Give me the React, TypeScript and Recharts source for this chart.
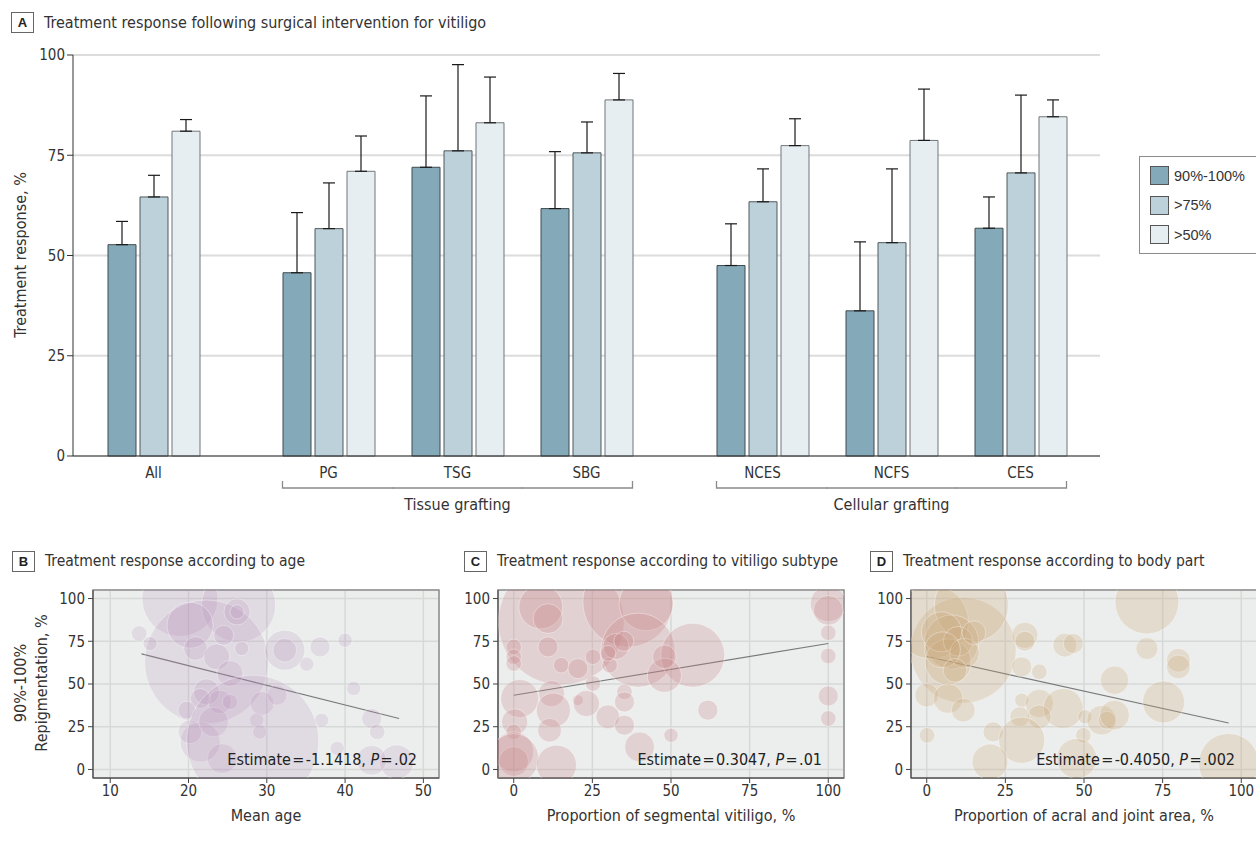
import React from "react";
import {
  BarChart,
  Bar,
  ErrorBar,
  XAxis,
  YAxis,
  CartesianGrid,
  Legend,
  ScatterChart,
  Scatter,
  ZAxis,
  ReferenceLine,
  ReferenceArea,
} from "recharts";

const FONT = "'Liberation Sans Narrow', 'DejaVu Sans Condensed', 'Liberation Sans', sans-serif";
const INK = "#333";

// ---- panel A data ----
const allGroups = ["All"];
const tissueGroups = ["PG", "TSG", "SBG"];
const cellularGroups = ["NCES", "NCFS", "CES"];
const categories = [...allGroups, ...tissueGroups, ...cellularGroups];

const resp90 = [52.7, 45.7, 72.0, 61.7, 47.5, 36.2, 56.8];
const upper90 = [58.5, 60.7, 89.8, 75.9, 57.9, 53.4, 64.6];
const resp75 = [64.6, 56.7, 76.1, 75.6, 63.4, 53.2, 70.6];
const upper75 = [70.0, 68.1, 97.6, 83.3, 71.6, 71.6, 90.0];
const resp50 = [81.0, 71.0, 83.1, 88.8, 77.4, 78.7, 84.6];
const upper50 = [83.9, 79.8, 94.5, 95.4, 84.1, 91.5, 88.8];

const seriesNames = ["90%-100%", ">75%", ">50%"];
const seriesKeys = ["r90", "r75", "r50"];
const seriesFill = ["#84a9b8", "#bdd1da", "#e6eef1"];
const seriesStroke = ["#3f4b50", "#4f585c", "#70777a"];
const yTicksA = [0, 25, 50, 75, 100];

const rows = categories.map((c, i) => ({
  group: c,
  r90: resp90[i],
  e_r90: [0, +(upper90[i] - resp90[i]).toFixed(1)],
  r75: resp75[i],
  e_r75: [0, +(upper75[i] - resp75[i]).toFixed(1)],
  r50: resp50[i],
  e_r50: [0, +(upper50[i] - resp50[i]).toFixed(1)],
}));

// ---- panels B-D data ----
const ageX = [18.9, 26.4, 22.3, 20.2, 32.3, 36.8, 40, 13.7, 15.1, 35.1, 41.1, 43.4, 44.1, 46.6, 43.4, 39, 37, 20.9, 23.6, 25.3, 22.3, 24, 21.5, 25.3, 26.8, 24.5, 29.4, 19.8, 28.7, 29.1, 21.5, 24.3, 20.2, 23.2, 31.3, 26.2, 26.2, 32.3, 28.2];
const ageY = [100, 96.1, 62.9, 84.4, 69.8, 71.7, 75.6, 79.5, 73.7, 61.6, 47.4, 29.8, 22, 4.4, 5.4, 12.3, 28.8, 70.8, 65.9, 56.1, 45.4, 39.5, 41.5, 39.5, 70.8, 78.5, 38.6, 34.7, 28.8, 22, 16.1, 6.4, 22, 27.8, 43.5, 92.2, 92.2, 69.8, 16.5];
const ageN = [144, 137, 384, 53, 40, 10, 5, 6, 5, 5, 5, 10, 6, 29, 22, 5, 5, 14, 17, 17, 17, 14, 10, 6, 5, 10, 14, 8, 5, 5, 40, 22, 14, 22, 10, 17, 5, 14, 436];
const ageFitX = [14, 46.9];
const ageFitY = [67.6, 29.8];

const segX = [15.1, 36.3, 42.1, 39.5, 56.9, 47.9, 8.6, 10.9, 10.9, 15.1, 20.4, 25.2, 30.5, 25.2, 0, 0, 0, 1.9, 12, 12.6, 20.4, 23.1, 11.4, 0.3, 0, 0, 0, 0, 13.6, 29.9, 35.2, 35.2, 35.2, 40, 50, 61.7, 100, 100, 100, 100, 100, 100, 32.5, 35, 30, 47.9];
const segY = [86.3, 98, 97, 69.8, 66.8, 55.1, 95.1, 88.3, 71.7, 61, 59, 65.9, 61, 50.3, 71.7, 65.9, 62, 41.5, 44.4, 34.7, 40.5, 38.6, 23, 27.8, 22, 10.3, 4.7, 6.4, 2.5, 30.8, 25.9, 45.4, 39.5, 13.2, 20, 34.7, 97, 93.1, 80, 66.4, 43, 29.8, 72, 75, 68, 65.9];
const segN = [397, 203, 73, 137, 102, 29, 48, 22, 10, 6, 10, 6, 6, 6, 6, 6, 6, 36, 17, 29, 3, 17, 14, 17, 6, 40, 22, 62, 40, 14, 10, 6, 10, 22, 5, 10, 32, 22, 6, 6, 10, 6, 17, 10, 6, 14];
const segFitX = [0, 100];
const segFitY = [43.4, 73.7];

const acralX = [11.6, 1.5, 14.2, 7.9, 6.8, 4.7, 0, 6.8, 11.6, 0.1, 31.2, 31.2, 30.2, 35.8, 43.9, 46.6, 70, 70, 80, 80, 59.7, 75.3, 30.2, 35.8, 43.4, 35.8, 29.6, 50.3, 55.6, 57.3, 59.7, 49.8, 21.1, 30.2, 20.1, 47.7, 96, 10, 12, 5, 9, 15];
const acralY = [69.8, 86.3, 96.1, 74.6, 62.9, 80.5, 43.5, 41.5, 34.7, 20, 78.5, 75, 60, 57.1, 72.7, 73.7, 98, 70.8, 63.9, 60, 52.2, 39.5, 40.5, 38.6, 35.7, 30.8, 30.8, 30.8, 28.8, 28.8, 31.8, 20, 22, 17.1, 4.4, 6.4, 3.5, 75, 68, 70, 58, 80];
const acralN = [281, 137, 137, 73, 53, 40, 14, 22, 14, 6, 17, 10, 10, 6, 14, 10, 102, 12, 14, 14, 20, 44, 5, 20, 40, 14, 10, 5, 22, 8, 22, 6, 10, 53, 32, 40, 90, 22, 22, 32, 14, 14];
const acralFitX = [0, 96];
const acralFitY = [66.1, 27.2];

const yTicksB = [0, 25, 50, 75, 100];

const toPoints = (xs: number[], ys: number[], ns: number[]) =>
  xs.map((x, i) => ({ x, y: ys[i], n: ns[i] }));

function PanelHeader({ letter, left, top, title, size = 16 }: { letter: string; left: number; top: number; title: string; size?: number }) {
  return (
    <>
      <div
        style={{
          position: "absolute",
          left,
          top,
          width: 23,
          height: 21,
          border: "1px solid #666",
          boxSizing: "border-box",
          display: "flex",
          alignItems: "center",
          justifyContent: "center",
          fontFamily: "'Liberation Sans', sans-serif",
          fontWeight: "bold",
          fontSize: 13,
          color: "#222",
        }}
      >
        {letter}
      </div>
      <div style={{ position: "absolute", left: left + 33, top, lineHeight: "21px", fontSize: size, color: INK, whiteSpace: "nowrap" }}>
        {title}
      </div>
    </>
  );
}

const makeTick = (groupLabel?: string) => (props: any) => {
  const { x, y, payload, index, visibleTicksCount } = props;
  const last = (visibleTicksCount ?? 3) - 1;
  let d = "";
  if (groupLabel) {
    const by = y + 32;
    if (index === 0) d = `M${x - 46},${by - 7}V${by}H${x + 65}`;
    else if (index === last) d = `M${x - 65},${by}H${x + 46}V${by - 7}`;
    else d = `M${x - 65},${by}H${x + 65}`;
  }
  return (
    <g>
      <text x={x} y={y + 22} textAnchor="middle" fontSize={15} fill={INK} fontFamily={FONT}>
        {payload.value}
      </text>
      {groupLabel && <path d={d} stroke="#8a8a8a" strokeWidth={1.3} fill="none" />}
      {groupLabel && index === 1 && (
        <text x={x} y={y + 54} textAnchor="middle" fontSize={16} fill={INK} fontFamily={FONT}>
          {groupLabel}
        </text>
      )}
    </g>
  );
};

const renderBars = () =>
  seriesKeys.map((k, i) => (
    <Bar
      key={k}
      dataKey={k}
      name={seriesNames[i]}
      fill={seriesFill[i]}
      stroke={seriesStroke[i]}
      strokeWidth={1}
      barSize={28}
      isAnimationActive={false}
    >
      <ErrorBar dataKey={`e_${k}`} width={6} stroke="#1a1a1a" strokeWidth={1.2} direction="y" />
    </Bar>
  ));

const legendContent = () => (
  <div
    style={{
      border: "1px solid #8c8c8c",
      width: 150,
      height: 98,
      boxSizing: "border-box",
      padding: "9px 0 0 10px",
      fontFamily: "'Liberation Sans', sans-serif",
      fontSize: 14.5,
      color: INK,
      background: "#fff",
    }}
  >
    {seriesNames.map((n, i) => (
      <div key={n} style={{ display: "flex", alignItems: "center", height: 19, marginBottom: 10.5 }}>
        <span
          style={{
            width: 19,
            height: 19,
            background: seriesFill[i],
            border: "1px solid #555",
            boxSizing: "border-box",
            marginRight: 5,
          }}
        />
        {n}
      </div>
    ))}
  </div>
);

const CHART_A_TOP = 40;
const CHART_A_H = 476;
const barMargin = { top: 15, right: 0, bottom: 0, left: 0 };

function BubblePanel(props: {
  left: number;
  width: number;
  marginLeft: number;
  marginRight: number;
  domain: [number, number];
  ticks: number[];
  xs: number[];
  ys: number[];
  ns: number[];
  fitX: number[];
  fitY: number[];
  color: string;
  opacity: number;
  xLabel: string;
  note: React.ReactNode;
}) {
  const { left, width, marginLeft, marginRight, domain, ticks, xs, ys, ns, fitX, fitY, color, opacity, xLabel, note } = props;
  const plotRight = left + width - marginRight;
  return (
    <>
      <div style={{ position: "absolute", left, top: 580 }}>
        <ScatterChart width={width} height={253} margin={{ top: 10, right: marginRight, bottom: 0, left: marginLeft }}>
          <CartesianGrid fill="#eceeed" stroke="#d7d9d8" strokeWidth={1.5} />
          <XAxis
            type="number"
            dataKey="x"
            domain={domain}
            ticks={ticks}
            allowDataOverflow
            height={55}
            tickSize={5}
            tickMargin={2}
            stroke="#444"
            tick={{ fontSize: 15, fill: INK, fontFamily: FONT }}
            label={{ value: xLabel, position: "insideBottom", offset: 12, fontSize: 16, fill: INK, fontFamily: FONT }}
          />
          <YAxis
            type="number"
            dataKey="y"
            domain={[-5, 105]}
            ticks={yTicksB}
            allowDataOverflow
            width={40}
            tickSize={5}
            tickMargin={3}
            stroke="#444"
            tick={{ fontSize: 15, fill: INK, fontFamily: FONT }}
          />
          <ZAxis type="number" dataKey="n" domain={[0, 450]} range={[0, 14137]} />
          <Scatter
            data={toPoints(xs, ys, ns)}
            fill={color}
            fillOpacity={opacity}
            stroke="#ffffff"
            strokeOpacity={0.45}
            strokeWidth={0.8}
            isAnimationActive={false}
          />
          <ReferenceLine
            segment={[
              { x: fitX[0], y: fitY[0] },
              { x: fitX[1], y: fitY[1] },
            ]}
            stroke="#7a7a7a"
            strokeWidth={1.2}
          />
          <ReferenceArea x1={domain[0]} x2={domain[1]} y1={-5} y2={105} fill="none" stroke="#8e8e8e" strokeWidth={1.5} />
        </ScatterChart>
      </div>
      <div
        style={{
          position: "absolute",
          left: plotRight - 322,
          width: 300,
          top: 750,
          lineHeight: "20px",
          textAlign: "right",
          fontSize: 16,
          color: "#222",
          whiteSpace: "nowrap",
        }}
      >
        {note}
      </div>
    </>
  );
}

const Note = ({ est, p }: { est: string; p: string }) => (
  <span>
    Estimate{"\u200A=\u200A"}
    {est}, <i>P</i>
    {"\u200A=\u200A"}
    {p}
  </span>
);

export default function App() {
  return (
    <div
      style={{
        position: "absolute",
        left: 0,
        top: 0,
        width: 1256,
        height: 842,
        overflow: "hidden",
        background: "#fff",
        fontFamily: FONT,
        color: INK,
      }}
    >
      <PanelHeader letter="A" left={11} top={12} title="Treatment response following surgical intervention for vitiligo" />

      <div
        style={{
          position: "absolute",
          left: 20,
          top: 255,
          transform: "translate(-50%, -50%) rotate(-90deg)",
          whiteSpace: "nowrap",
          fontSize: 16,
        }}
      >
        Treatment response, %
      </div>

      <div style={{ position: "absolute", left: 0, top: CHART_A_TOP }}>
        <BarChart width={240} height={CHART_A_H} data={rows.slice(0, 1)} margin={barMargin} barGap={4}>
          <CartesianGrid horizontal vertical={false} stroke="#dcdcdc" strokeWidth={2} />
          <XAxis
            dataKey="group"
            height={60}
            padding={{ left: 16, right: 22 }}
            tickLine={false}
            tickSize={0}
            tickMargin={0}
            stroke="#333"
            interval={0}
            tick={makeTick()}
          />
          <YAxis
            domain={[0, 100]}
            ticks={yTicksA}
            width={73}
            tickSize={6}
            tickMargin={2}
            stroke="#333"
            tick={{ fontSize: 15, fill: INK, fontFamily: FONT }}
          />
          {renderBars()}
        </BarChart>
      </div>

      <div style={{ position: "absolute", left: 240, top: CHART_A_TOP }}>
        <BarChart width={434} height={CHART_A_H} data={rows.slice(1, 4)} margin={barMargin} barGap={4}>
          <CartesianGrid horizontal vertical={false} stroke="#dcdcdc" strokeWidth={2} />
          <XAxis
            dataKey="group"
            height={60}
            padding={{ left: 24, right: 23 }}
            tickLine={false}
            tickSize={0}
            tickMargin={0}
            stroke="#333"
            interval={0}
            tick={makeTick("Tissue grafting")}
          />
          <YAxis hide domain={[0, 100]} ticks={yTicksA} />
          {renderBars()}
        </BarChart>
      </div>

      <div style={{ position: "absolute", left: 674, top: CHART_A_TOP }}>
        <BarChart
          width={582}
          height={CHART_A_H}
          data={rows.slice(4, 7)}
          margin={{ ...barMargin, right: 156 }}
          barGap={4}
        >
          <CartesianGrid horizontal vertical={false} stroke="#dcdcdc" strokeWidth={2} />
          <XAxis
            dataKey="group"
            height={60}
            padding={{ left: 24, right: 15 }}
            tickLine={false}
            tickSize={0}
            tickMargin={0}
            stroke="#333"
            interval={0}
            tick={makeTick("Cellular grafting")}
          />
          <YAxis hide domain={[0, 100]} ticks={yTicksA} />
          {renderBars()}
          <Legend
            layout="horizontal"
            verticalAlign="middle"
            align="center"
            content={legendContent}
            wrapperStyle={{ left: 465, top: 116, width: 160, height: 100 }}
          />
        </BarChart>
      </div>

      <PanelHeader letter="B" left={12} top={551} title="Treatment response according to age" size={15.5} />
      <PanelHeader letter="C" left={464} top={551} title="Treatment response according to vitiligo subtype" size={15.5} />
      <PanelHeader letter="D" left={870} top={551} title="Treatment response according to body part" size={15.5} />

      <div
        style={{
          position: "absolute",
          left: 31,
          top: 683,
          transform: "translate(-50%, -50%) rotate(-90deg)",
          whiteSpace: "nowrap",
          fontSize: 16,
          lineHeight: "21px",
          textAlign: "center",
        }}
      >
        90%-100%
        <br />
        Repigmentation, %
      </div>

      <BubblePanel
        left={0}
        width={449}
        marginLeft={53}
        marginRight={10}
        domain={[7.8, 52]}
        ticks={[10, 20, 30, 40, 50]}
        xs={ageX}
        ys={ageY}
        ns={ageN}
        fitX={ageFitX}
        fitY={ageFitY}
        color="#b48cb9"
        opacity={0.2}
        xLabel="Mean age"
        note={<Note est="-1.1418" p=".02" />}
      />
      <BubblePanel
        left={449}
        width={401}
        marginLeft={9}
        marginRight={6}
        domain={[-5, 105]}
        ticks={[0, 25, 50, 75, 100]}
        xs={segX}
        ys={segY}
        ns={segN}
        fitX={segFitX}
        fitY={segFitY}
        color="#c7868a"
        opacity={0.27}
        xLabel="Proportion of segmental vitiligo, %"
        note={<Note est="0.3047" p=".01" />}
      />
      <BubblePanel
        left={858}
        width={401}
        marginLeft={13}
        marginRight={2}
        domain={[-5, 105]}
        ticks={[0, 25, 50, 75, 100]}
        xs={acralX}
        ys={acralY}
        ns={acralN}
        fitX={acralFitX}
        fitY={acralFitY}
        color="#c9a878"
        opacity={0.26}
        xLabel="Proportion of acral and joint area, %"
        note={<Note est="-0.4050" p=".002" />}
      />
    </div>
  );
}
